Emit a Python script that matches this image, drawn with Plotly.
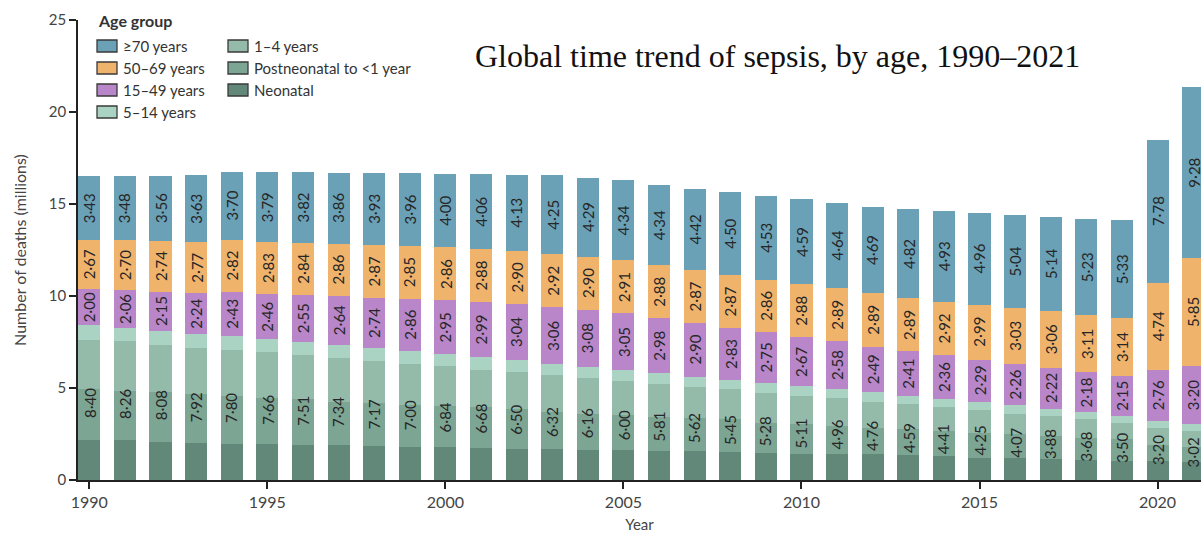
import plotly.graph_objects as go

years = list(range(1990, 2022))

# Under-15 breakdown (millions)
neonatal = [2.16, 2.15, 2.08, 2.02, 1.98, 1.94, 1.91, 1.89, 1.84, 1.79, 1.77, 1.73, 1.69, 1.68, 1.64, 1.62,
            1.58, 1.55, 1.50, 1.49, 1.44, 1.40, 1.39, 1.35, 1.31, 1.22, 1.19, 1.14, 1.08, 1.05, 1.01, 0.96]
postneonatal = [2.76, 2.71, 2.70, 2.66, 2.58, 2.53, 2.47, 2.36, 2.36, 2.31, 2.25, 2.23, 2.15, 2.02, 1.93, 1.91,
                1.87, 1.84, 1.80, 1.63, 1.62, 1.54, 1.46, 1.41, 1.36, 1.36, 1.30, 1.26, 1.23, 1.17, 0.90, 0.81]
age_1_4 = [2.70, 2.67, 2.57, 2.52, 2.48, 2.48, 2.39, 2.38, 2.25, 2.21, 2.16, 2.04, 2.01, 1.99, 1.98, 1.84,
           1.77, 1.65, 1.62, 1.62, 1.50, 1.49, 1.40, 1.35, 1.29, 1.20, 1.11, 1.08, 0.99, 0.90, 0.94, 0.90]
age_5_14 = [0.78, 0.73, 0.73, 0.72, 0.76, 0.71, 0.74, 0.71, 0.72, 0.69, 0.66, 0.68, 0.65, 0.63, 0.61, 0.63,
            0.59, 0.58, 0.53, 0.54, 0.55, 0.53, 0.51, 0.48, 0.45, 0.47, 0.47, 0.40, 0.38, 0.38, 0.35, 0.35]

# Labelled values
under15 = [8.40, 8.26, 8.08, 7.92, 7.80, 7.66, 7.51, 7.34, 7.17, 7.00, 6.84, 6.68, 6.50, 6.32, 6.16, 6.00,
           5.81, 5.62, 5.45, 5.28, 5.11, 4.96, 4.76, 4.59, 4.41, 4.25, 4.07, 3.88, 3.68, 3.50, 3.20, 3.02]
age_15_49 = [2.00, 2.06, 2.15, 2.24, 2.43, 2.46, 2.55, 2.64, 2.74, 2.86, 2.95, 2.99, 3.04, 3.06, 3.08, 3.05,
             2.98, 2.90, 2.83, 2.75, 2.67, 2.58, 2.49, 2.41, 2.36, 2.29, 2.26, 2.22, 2.18, 2.15, 2.76, 3.20]
age_50_69 = [2.67, 2.70, 2.74, 2.77, 2.82, 2.83, 2.84, 2.86, 2.87, 2.85, 2.86, 2.88, 2.90, 2.92, 2.90, 2.91,
             2.88, 2.87, 2.87, 2.86, 2.88, 2.89, 2.89, 2.89, 2.92, 2.99, 3.03, 3.06, 3.11, 3.14, 4.74, 5.85]
age_70 = [3.43, 3.48, 3.56, 3.63, 3.70, 3.79, 3.82, 3.86, 3.93, 3.96, 4.00, 4.06, 4.13, 4.25, 4.29, 4.34,
          4.34, 4.42, 4.50, 4.53, 4.59, 4.64, 4.69, 4.82, 4.93, 4.96, 5.04, 5.14, 5.23, 5.33, 7.78, 9.28]

names = ["Neonatal", "Postneonatal to <1 year", "1–4 years", "5–14 years",
         "15–49 years", "50–69 years", "≥70 years"]
colors = ["#62887a", "#7da593", "#94bbaa", "#aad3c3", "#b886c9", "#f0b36c", "#6aa1b7"]
series = [neonatal, postneonatal, age_1_4, age_5_14, age_15_49, age_50_69, age_70]

W, H = 1201, 533
ML, MR, MT, MB = 78, 0, 20, 53
PW, PH = W - ML - MR, H - MT - MB

def px2paper_x(px):
    return (px - ML) / PW

def px2paper_y(py):
    return (H - MB - py) / PH

fig = go.Figure()
for nm, col, vals in zip(names, colors, series):
    fig.add_trace(go.Bar(x=years, y=vals, name=nm, marker=dict(color=col, line=dict(width=0)),
                         width=0.62, showlegend=False, hoverinfo="x+y+name"))

def fmt(v):
    return f"{v:.2f}".replace(".", "·")

SANS = "Lato, Noto Sans, sans-serif"
label_font = dict(family=SANS, size=15, color="#262626")
annotations = []
for i, yr in enumerate(years):
    base = 0.0
    for val in [under15[i], age_15_49[i], age_50_69[i], age_70[i]]:
        annotations.append(dict(x=yr, y=base + val / 2, xref="x", yref="y", text=fmt(val),
                                textangle=-90, showarrow=False, font=label_font,
                                xanchor="center", yanchor="middle"))
        base += val

# Title
annotations.append(dict(x=px2paper_x(777), y=px2paper_y(56), xref="paper", yref="paper",
                        text="Global time trend of sepsis, by age, 1990–2021", showarrow=False,
                        font=dict(family="Liberation Serif, Times New Roman, serif", size=32, color="#111"),
                        xanchor="center", yanchor="middle"))

# Manual legend (column-major layout)
shapes = []
annotations.append(dict(x=px2paper_x(96), y=px2paper_y(21), xref="paper", yref="paper",
                        text="<b>Age group</b>", showarrow=False,
                        font=dict(family=SANS, size=16, color="#333"),
                        xanchor="left", yanchor="middle"))
legend_cols = [
    [("≥70 years", colors[6]), ("50–69 years", colors[5]), ("15–49 years", colors[4]), ("5–14 years", colors[3])],
    [("1–4 years", colors[2]), ("Postneonatal to <1 year", colors[1]), ("Neonatal", colors[0])],
]
col_x = [97, 228]
row_y = [46, 68, 90, 112]
for c, items in enumerate(legend_cols):
    for r, (txt, colr) in enumerate(items):
        x0, yc = col_x[c], row_y[r]
        shapes.append(dict(type="rect", xref="paper", yref="paper",
                           x0=px2paper_x(x0), x1=px2paper_x(x0 + 20),
                           y0=px2paper_y(yc + 6), y1=px2paper_y(yc - 6),
                           fillcolor=colr, line=dict(color="#3a3a3a", width=1.3)))
        annotations.append(dict(x=px2paper_x(x0 + 24), y=px2paper_y(yc), xref="paper", yref="paper",
                                text=txt, showarrow=False,
                                font=dict(family=SANS, size=15, color="#333"),
                                xanchor="left", yanchor="middle"))

fig.update_layout(
    width=W, height=H,
    margin=dict(l=ML, r=MR, t=MT, b=MB, pad=0),
    barmode="stack",
    plot_bgcolor="white", paper_bgcolor="white",
    font=dict(family=SANS, size=15, color="#444"),
    annotations=annotations, shapes=shapes,
    xaxis=dict(range=[1989.683, 2021.22], tickmode="array", tickvals=[1990, 1995, 2000, 2005, 2010, 2015, 2020],
               ticks="outside", ticklen=7, tickwidth=1.5, tickcolor="#222",
               showline=True, linecolor="#222", linewidth=1.5, showgrid=False, zeroline=False,
               title=dict(text="Year", standoff=10, font=dict(size=15, color="#444")),
               tickfont=dict(size=16, color="#444")),
    yaxis=dict(range=[0, 25], tickvals=[0, 5, 10, 15, 20, 25],
               ticks="outside", ticklen=7, tickwidth=1.5, tickcolor="#222",
               showline=True, linecolor="#222", linewidth=1.5, showgrid=False, zeroline=False,
               title=dict(text="Number of deaths (millions)", standoff=18, font=dict(size=16, color="#444")),
               tickfont=dict(size=15, color="#444")),
)

fig.write_html("out.html", config={"displayModeBar": False},
               post_script="document.body.style.margin='0';document.body.style.overflow='hidden';")
